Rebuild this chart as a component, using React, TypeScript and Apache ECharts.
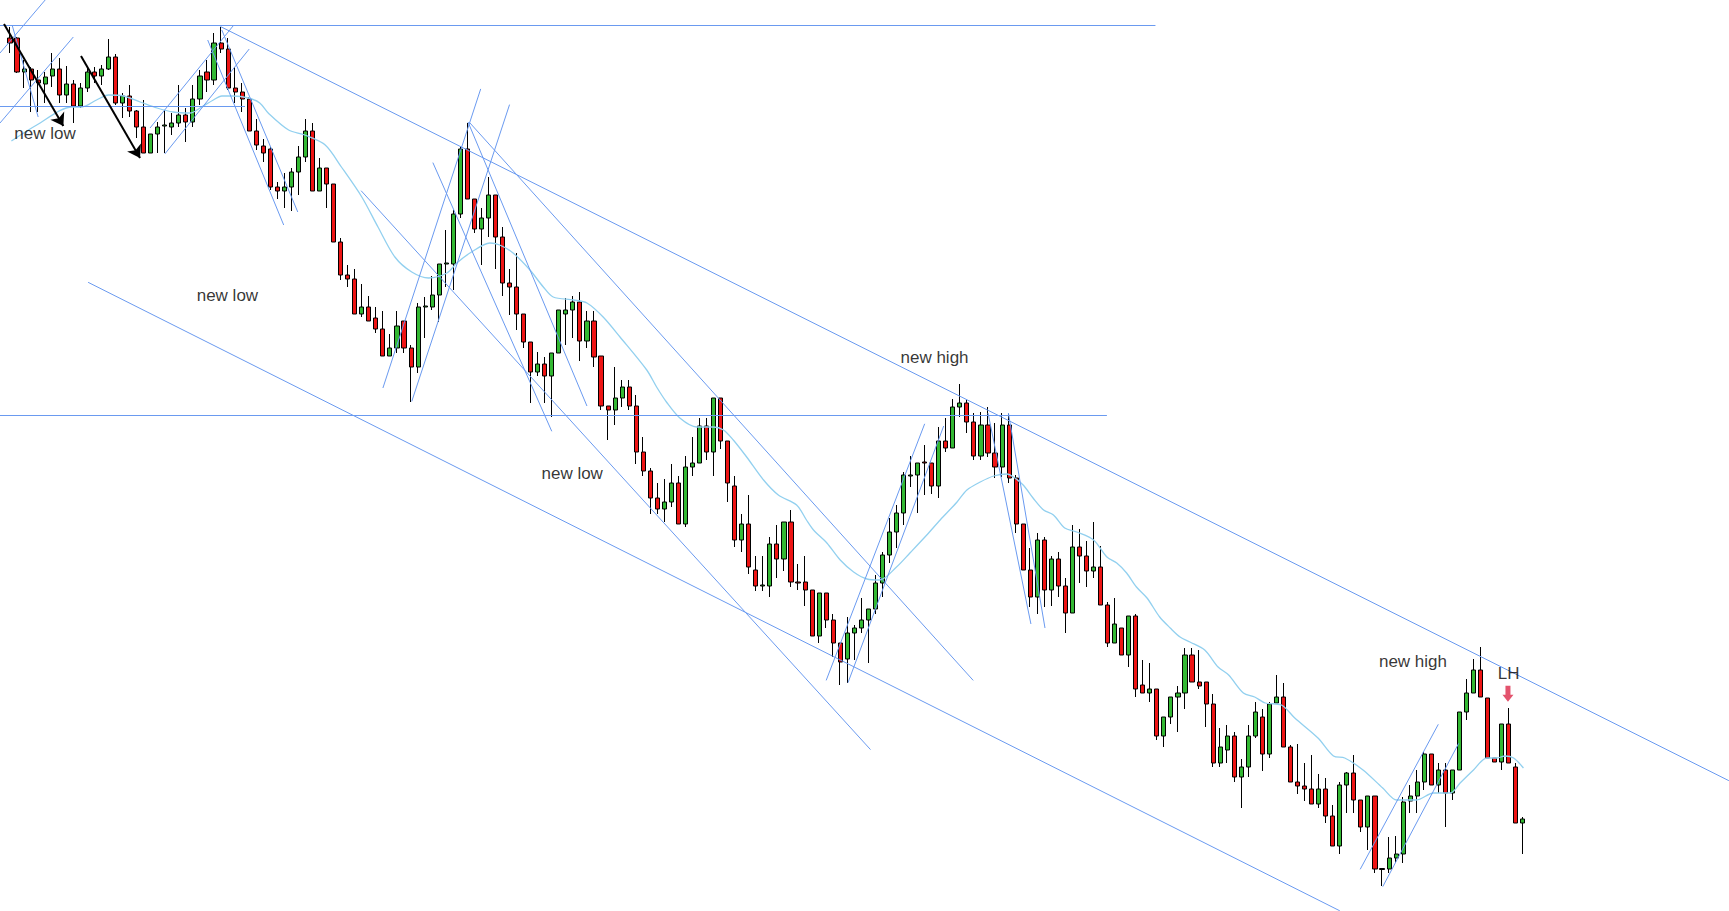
import React, { useEffect, useRef } from 'react';
import * as echarts from 'echarts';

// ---- candle data (price units) ----
const opens = [
  962, 962, 928, 931, 920, 916, 924, 931, 905, 916,
  894, 912, 928, 924, 931, 943, 897, 904, 889, 873,
  847, 866, 874, 873, 877, 885, 878, 901, 928, 920,
  957, 951, 912, 908, 901, 869, 854, 851, 813, 809,
  813, 828, 843, 869, 809, 832, 816, 758, 725, 721,
  686, 693, 682, 671, 644, 652, 679, 652, 633, 693,
  693, 705, 736, 736, 786, 851, 801, 771, 782, 805,
  763, 717, 713, 686, 658, 628, 636, 624, 647, 686,
  690, 698, 659, 679, 644, 594, 590, 602, 613, 594,
  548, 529, 502, 491, 498, 517, 476, 533, 537, 574,
  548, 602, 559, 514, 460, 476, 430, 414, 414, 456,
  441, 478, 418, 418, 410, 364, 407, 380, 357, 341,
  367, 372, 380, 391, 417, 445, 468, 487, 524, 525,
  538, 537, 514, 559, 552, 593, 597, 578, 544, 575,
  547, 533, 575, 522, 476, 430, 403, 460, 410, 441,
  414, 387, 453, 444, 429, 433, 395, 357, 372, 345,
  384, 315, 307, 311, 264, 283, 303, 307, 345, 318,
  318, 296, 237, 250, 264, 223, 233, 264, 283, 246,
  297, 303, 253, 218, 214, 211, 196, 211, 184, 154,
  215, 227, 200, 173, 204, 131.5, 131, 142, 146, 199,
  204, 218, 246, 215, 230, 207, 230, 288, 307, 330,
  302, 242, 238, 276, 233, 177,
];
const closes = [
  957, 928, 931, 920, 917, 923, 931, 905, 916, 894,
  912, 928, 924, 931, 943, 897, 904, 889, 873, 847,
  866, 873, 875, 877, 885, 878, 901, 924, 920, 957,
  951, 912, 908, 901, 869, 855, 847, 813, 809, 813,
  828, 843, 869, 809, 832, 816, 758, 725, 721, 686,
  693, 679, 671, 644, 652, 674, 652, 633, 693, 694,
  705, 736, 737, 786, 851, 801, 771, 782, 805, 763,
  717, 713, 686, 658, 628, 636, 624, 647, 690, 690,
  698, 659, 679, 643, 594, 590, 602, 613, 594, 548,
  529, 502, 491, 498, 517, 476, 533, 537, 574, 548,
  602, 559, 517, 460, 476, 433, 414, 415, 456, 441,
  478, 418, 417, 410, 364, 407, 380, 357, 338, 367,
  372, 380, 391, 417, 445, 468, 487, 525, 525, 537,
  537, 514, 559, 552, 593, 597, 578, 544, 575, 547,
  533, 575, 522, 476, 430, 403, 460, 410, 441, 414,
  387, 453, 444, 429, 433, 395, 357, 376, 345, 384,
  311, 307, 311, 264, 283, 303, 307, 345, 318, 314,
  296, 237, 253, 264, 223, 233, 264, 288, 246, 296,
  303, 253, 218, 214, 211, 196, 211, 184, 154, 215,
  227, 200, 173, 204, 131, 130.5, 142, 146, 198, 204,
  218, 246, 215, 230, 207, 230, 288, 307, 330, 303,
  242, 238, 276, 237, 177, 181,
];
const lows = [
  947, 927, 912, 888, 888, 897, 913, 897, 897, 877,
  892, 908, 917, 915, 930, 895, 882, 883, 862, 847,
  847, 847, 847, 865, 873, 858, 873, 895, 908, 915,
  947, 910, 897, 888, 869, 850, 838, 810, 801, 792,
  789, 805, 838, 809, 809, 792, 758, 720, 713, 686,
  683, 679, 667, 644, 644, 647, 647, 598, 627, 662,
  690, 678, 713, 710, 782, 801, 767, 735, 763, 731,
  704, 685, 670, 652, 597, 624, 597, 583, 647, 655,
  662, 639, 652, 633, 590, 560, 575, 593, 590, 536,
  524, 486, 486, 478, 493, 476, 473, 524, 537, 540,
  524, 551, 498, 453, 448, 426, 409, 409, 403, 422,
  429, 413, 410, 394, 364, 357, 372, 343, 315, 317,
  340, 367, 337, 386, 403, 437, 452, 475, 513, 487,
  505, 506, 502, 548, 552, 583, 567, 540, 540, 543,
  522, 523, 517, 467, 430, 393, 386, 393, 394, 403,
  367, 387, 417, 413, 422, 395, 353, 357, 345, 333,
  303, 307, 298, 260, 253, 276, 268, 291, 318, 311,
  273, 233, 233, 237, 218, 192, 223, 262, 229, 242,
  297, 253, 218, 206, 199, 196, 192, 177, 154, 146,
  187, 187, 168, 150, 127, 114, 127, 137, 137, 187,
  187, 210, 215, 207, 173, 200, 230, 280, 307, 303,
  242, 238, 230, 237, 177, 146,
];
const highs = [
  973, 963, 940, 933, 930, 928, 947, 942, 934, 920,
  917, 933, 933, 935, 961, 946, 907, 915, 890, 900,
  866, 878, 890, 887, 915, 892, 915, 930, 940, 967,
  973, 962, 933, 917, 903, 881, 861, 853, 818, 827,
  832, 854, 881, 877, 842, 832, 816, 762, 735, 731,
  716, 704, 693, 689, 666, 689, 679, 655, 697, 703,
  724, 736, 770, 790, 854, 877, 801, 792, 823, 805,
  773, 731, 747, 686, 658, 648, 643, 647, 690, 702,
  704, 708, 689, 689, 644, 594, 633, 620, 620, 605,
  563, 532, 517, 521, 536, 524, 544, 563, 582, 582,
  602, 602, 559, 524, 486, 505, 444, 444, 463, 475,
  478, 490, 436, 444, 410, 407, 407, 386, 357, 383,
  375, 402, 391, 425, 448, 482, 495, 528, 544, 537,
  555, 537, 573, 582, 601, 616, 600, 587, 588, 593,
  577, 587, 587, 525, 476, 452, 467, 463, 444, 448,
  422, 475, 471, 459, 478, 454, 398, 402, 372, 384,
  386, 340, 337, 311, 283, 303, 314, 352, 352, 350,
  318, 306, 272, 275, 268, 241, 275, 298, 291, 298,
  325, 317, 255, 256, 237, 245, 226, 222, 195, 218,
  228, 245, 200, 204, 204, 132, 163, 164, 203, 215,
  230, 248, 246, 237, 237, 230, 288, 321, 341, 353,
  302, 242, 276, 292, 237, 183,
];
const categories = opens.map((_, i) => `bar ${i + 1}`);

// ---- moving average, x in bar-index units ----
const maIndex = [
  0.2, 3.8, 8.8, 10.2, 12.3, 14.0, 16.1, 18.5, 20.9, 23.2,
  25.6, 27.0, 28.9, 30.1, 31.7, 33.9, 35.5, 36.7, 39.6, 41.9,
  44.8, 47.1, 50.0, 52.3, 54.7, 57.1, 59.5, 62.1, 63.5, 65.6,
  68.2, 69.6, 71.5, 73.9, 75.8, 77.2, 80.1, 82.0, 84.3, 86.7,
  90.5, 91.9, 93.3, 95.2, 97.6, 100.0, 101.4, 102.8, 104.7, 107.1,
  109.2, 111.8, 113.2, 114.2, 116.1, 118.0, 119.9, 121.8, 123.6, 126.0,
  127.9, 130.3, 132.2, 134.6, 136.0, 137.9, 139.8, 141.7, 142.6, 144.0,
  145.4, 146.9, 148.3, 149.9, 151.6, 154.0, 155.9, 157.3, 158.7, 160.1,
  161.6, 163.4, 164.9, 166.3, 167.7, 169.8, 171.7, 173.2, 175.3, 176.9,
  178.4, 180.7, 182.6, 185.9, 188.1, 189.7, 192.3, 195.1, 197.1, 199.9,
  202.3, 204.7, 206.1, 208.0, 209.9, 211.3, 212.5, 213.7, 215.1,
];
const maValues = [
  859, 875, 893, 893, 900, 905, 904, 898, 892, 888,
  887, 892, 900, 904, 904, 902, 897, 887, 870, 865,
  855, 833, 803, 773, 743, 728, 722, 727, 737, 748,
  757, 755, 747, 730, 713, 703, 700, 697, 683, 663,
  630, 613, 598, 582, 573, 573, 570, 560, 543, 520,
  505, 495, 480, 470, 457, 440, 428, 421, 420, 433,
  447, 465, 480, 498, 510, 518, 524, 526, 523, 515,
  502, 490, 485, 472, 468, 460, 443, 437, 427, 413,
  402, 383, 372, 363, 358, 350, 333, 325, 307, 303,
  297, 295, 282, 262, 244, 242, 230, 212, 200, 200,
  207, 207, 217, 230, 242, 242, 244, 242, 232,
];

// ---- drawn trend lines: [[barIndex, price], [barIndex, price]] ----
const trendLines = [
  [[-1.42, 975], [162.8, 975]],
  [[-1.42, 585], [155.9, 585]],
  [[-1.42, 894], [33.4, 894]],
  [[29.9, 973.5], [244.3, 219.3]],
  [[11.1, 717.7], [189.0, 89.2]],
  [[53.0, 612.0], [66.9, 911.1]],
  [[57.1, 598.6], [71.0, 895.4]],
  [[49.9, 809.3], [122.3, 250.4]],
  [[65.3, 877.6], [136.9, 319.6]],
  [[60.1, 837.4], [77.0, 568.7]],
  [[65.1, 878.0], [82.0, 594.0]],
  [[116.0, 319.6], [130.0, 576.2]],
  [[119.1, 317.3], [132.7, 574.0]],
  [[139.0, 587], [145.1, 376]],
  [[141.9, 587], [147.1, 372]],
  [[28.1, 960], [38.9, 775]],
  [[30.1, 970], [40.9, 788]],
  [[19.9, 872], [31.7, 974]],
  [[22.0, 846], [34.0, 951]],
  [[-1.42, 947], [5.0, 1000]],
  [[-1.42, 877], [9.0, 963]],
  [[0.3, 975], [4.0, 883]],
  [[191.9, 130.7], [203.0, 275.7]],
  [[195.1, 113.3], [205.9, 256.7]],
];
const arrowLines = [
  [[-0.85, 976], [7.58, 874]],
  [[10.09, 944], [18.48, 842]],
];
const labelTexts = ['new low', 'new low', 'new low', 'new high', 'new high', 'LH'];
const labelX = [4.97, 30.9, 79.9, 131.4, 199.4, 213.0];
const labelY = [866.5, 705, 526.4, 642.3, 338.7, 326.7];
const lhArrow = [212.9, 306.2];

const candleData = opens.map((o, i) => [o, closes[i], lows[i], highs[i]]);

const BLUE = '#6a9af0';

const option: any = {
  animation: false,
  backgroundColor: '#ffffff',
  grid: [
    { left: 6.482, top: 0, width: 1519.776, height: 911 },
    { left: 0, top: 0, right: 0, bottom: 0 },
  ],
  xAxis: [
    { type: 'category', gridIndex: 0, data: categories, boundaryGap: true, show: false },
    { type: 'value', gridIndex: 1, min: -1.4213, max: 244.315, show: false },
  ],
  yAxis: [
    { type: 'value', gridIndex: 0, min: 89, max: 1000, show: false },
    { type: 'value', gridIndex: 1, min: 89, max: 1000, show: false },
  ],
  series: [
    {
      type: 'candlestick',
      xAxisIndex: 0,
      yAxisIndex: 0,
      data: candleData,
      barWidth: 4.6,
      z: 2,
      itemStyle: {
        color: '#33b833',
        color0: '#ee1414',
        borderColor: '#000000',
        borderColor0: '#000000',
        borderColorDoji: '#000000',
        borderWidth: 1,
      },
    },
    {
      type: 'line',
      xAxisIndex: 1,
      yAxisIndex: 1,
      data: maIndex.map((x, i) => [x, maValues[i]]),
      showSymbol: false,
      smooth: 0.3,
      z: 3,
      lineStyle: { color: '#92d0ef', width: 1.3 },
    },
    {
      type: 'lines',
      coordinateSystem: 'cartesian2d',
      xAxisIndex: 1,
      yAxisIndex: 1,
      z: 4,
      data: trendLines.map((c) => ({ coords: c })),
      lineStyle: { color: BLUE, width: 1, opacity: 1 },
    },
    {
      type: 'lines',
      coordinateSystem: 'cartesian2d',
      xAxisIndex: 1,
      yAxisIndex: 1,
      z: 5,
      symbol: ['none', 'arrow'],
      symbolSize: 12,
      data: arrowLines.map((c) => ({ coords: c })),
      lineStyle: { color: '#000000', width: 2, opacity: 1 },
    },
    {
      type: 'scatter',
      xAxisIndex: 1,
      yAxisIndex: 1,
      z: 6,
      symbolSize: 1,
      itemStyle: { color: 'rgba(0,0,0,0)' },
      data: labelTexts.map((t, i) => ({ name: t, value: [labelX[i], labelY[i]] })),
      label: {
        show: true,
        position: 'inside',
        formatter: '{b}',
        color: '#000000',
        textBorderWidth: 0,
        fontSize: 17,
        fontFamily: 'Liberation Sans, Arial, sans-serif',
      },
    },
    {
      type: 'scatter',
      xAxisIndex: 1,
      yAxisIndex: 1,
      z: 6,
      symbol: 'path://M3,0L8,0L8,9L11,9L5.5,16L0,9L3,9Z',
      symbolSize: [11, 16],
      itemStyle: { color: '#dc2848' },
      data: [lhArrow],
    },
  ],
};

export default function App() {
  const ref = useRef<HTMLDivElement>(null);
  useEffect(() => {
    const chart = echarts.init(ref.current!, null, { renderer: 'svg' });
    chart.setOption(option);
    return () => chart.dispose();
  }, []);
  return (
    <div
      ref={ref}
      style={{ position: 'fixed', left: 0, top: 0, width: 1729, height: 911, background: '#ffffff' }}
    />
  );
}
